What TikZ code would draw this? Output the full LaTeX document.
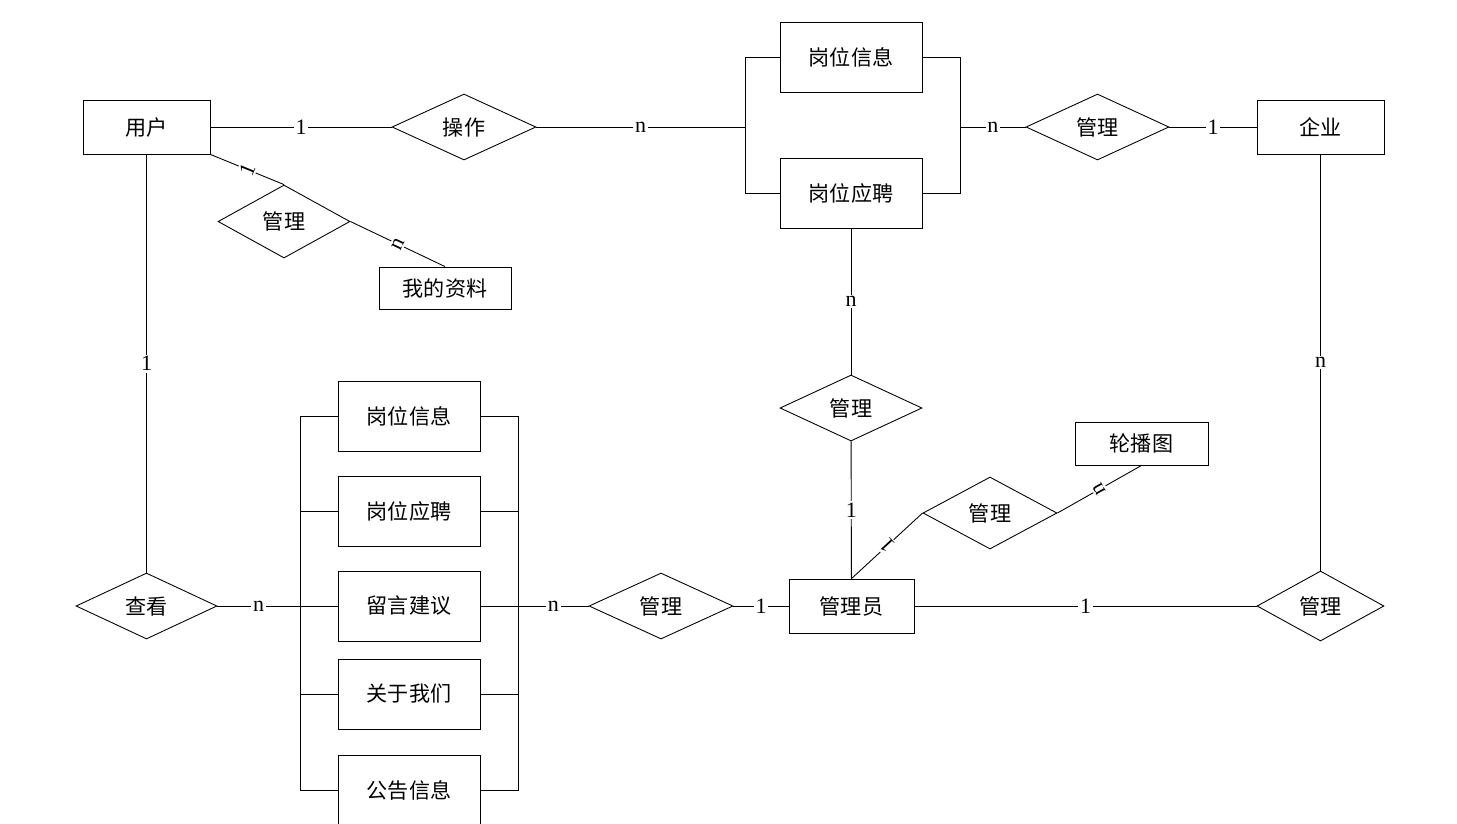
\documentclass[tikz,border=0pt]{standalone}
\usepackage{fontspec}
\setmainfont{Liberation Serif}
\newfontfamily\cjk{Noto Sans CJK SC}
\usetikzlibrary{shapes.geometric}

\begin{document}
\begin{tikzpicture}[x=0.02cm, y=-0.02cm, line width=0.5pt,
  entity/.style={draw, rectangle, inner sep=0pt, font=\cjk\fontsize{12}{14}\selectfont},
  relation/.style={draw, diamond, inner sep=0pt, font=\cjk\fontsize{12}{14}\selectfont},
  card/.style={fill=white, inner sep=1pt, font=\fontsize{12.5}{14}\selectfont}]

\useasboundingbox (0,0) rectangle (1457,823);

% top row
\node [entity, minimum width=2.54cm, minimum height=1.08cm] (user) at (146.5,127) {用户};
\node [relation, minimum width=2.88cm, minimum height=1.32cm] (op) at (464,127) {操作};
\node [entity, minimum width=2.84cm, minimum height=1.4cm] (info1) at (851,57) {岗位信息};
\node [entity, minimum width=2.84cm, minimum height=1.4cm] (apply1) at (851,193) {岗位应聘};
\node [relation, minimum width=2.86cm, minimum height=1.32cm] (mgcorp) at (1097.5,127) {管理};
\node [entity, minimum width=2.54cm, minimum height=1.08cm] (corp) at (1320.5,127) {企业};

\node [relation, minimum width=2.64cm, minimum height=1.46cm] (mgprof) at (284,221.5) {管理};
\node [entity, minimum width=2.64cm, minimum height=0.84cm] (prof) at (445,288) {我的资料};

% middle
\node [relation, minimum width=2.84cm, minimum height=1.32cm] (mgpost) at (851,408) {管理};
\node [entity, minimum width=2.66cm, minimum height=0.86cm] (banner) at (1141.5,443.5) {轮播图};
\node [relation, minimum width=2.68cm, minimum height=1.44cm] (mgbanner) at (990,513) {管理};

% bottom row
\node [relation, minimum width=2.82cm, minimum height=1.32cm] (view) at (146.5,606) {查看};
\node [entity, minimum width=2.84cm, minimum height=1.4cm] (info2) at (409,416) {岗位信息};
\node [entity, minimum width=2.84cm, minimum height=1.4cm] (apply2) at (409,511) {岗位应聘};
\node [entity, minimum width=2.84cm, minimum height=1.4cm] (msg) at (409,606) {留言建议};
\node [entity, minimum width=2.84cm, minimum height=1.4cm] (about) at (409,694) {关于我们};
\node [entity, minimum width=2.84cm, minimum height=1.4cm] (notice) at (409,790) {公告信息};
\node [relation, minimum width=2.88cm, minimum height=1.32cm] (mgpage) at (661,606) {管理};
\node [entity, minimum width=2.5cm, minimum height=1.08cm] (admin) at (851.5,606) {管理员};
\node [relation, minimum width=2.54cm, minimum height=1.4cm] (mgadmin) at (1320.5,606) {管理};

\coordinate (bl1) at (745,127);
\coordinate (br1) at (960,127);
\coordinate (bl2) at (300,606);
\coordinate (br2) at (518,606);

% top links
\draw (user) -- node [card] {1} (op);
\draw (info1.west) -| (bl1);
\draw (apply1.west) -| (bl1);
\draw (op) -- node [card] {n} (bl1);
\draw (info1.east) -| (br1);
\draw (apply1.east) -| (br1);
\draw (br1) -- node [card] {n} (mgcorp);
\draw (mgcorp) -- node [card] {1} (corp);

\draw (user.south east) -- node [card, sloped, rotate=90] {1} (mgprof.north);
\draw (mgprof.east) -- node [card, sloped, rotate=90] {n} (prof.north);

% verticals
\draw (user) -- node [card] {1} (view);
\draw (corp) -- node [card] {n} (mgadmin);
\draw (apply1) -- node [card] {n} (mgpost);
\draw (mgpost) -- node [card] {1} (admin);

\draw (admin.north) -- node [card, sloped, rotate=90] {1} (mgbanner.west);
\draw (mgbanner.east) -- node [card, sloped, rotate=90] {n} (banner.south);

% bottom links
\draw (view) -- node [card] {n} (bl2);
\foreach \b in {info2,apply2,msg,about,notice} {
  \draw (\b.west) -| (bl2);
  \draw (\b.east) -| (br2);
}
\draw (br2) -- node [card] {n} (mgpage);
\draw (mgpage) -- node [card] {1} (admin);
\draw (admin) -- node [card] {1} (mgadmin);

\end{tikzpicture}
\end{document}
